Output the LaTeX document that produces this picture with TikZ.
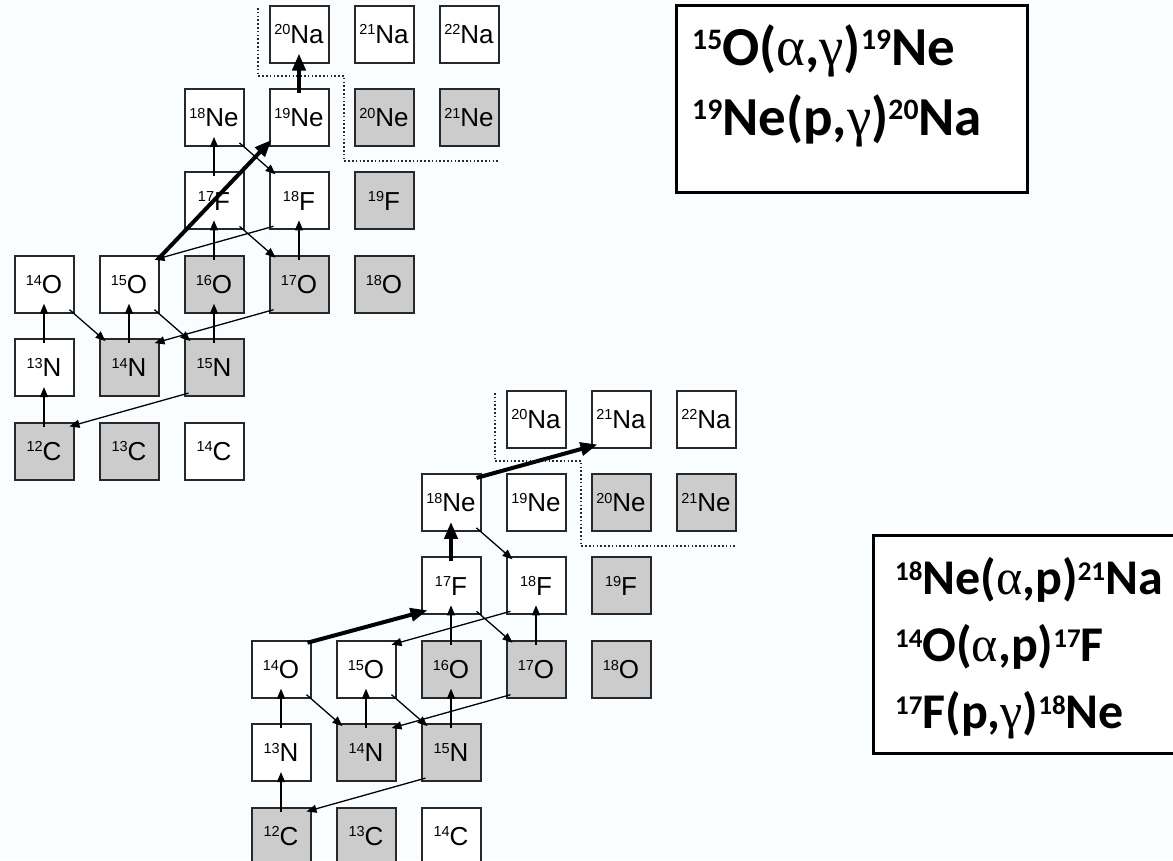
\documentclass[tikz,border=0pt]{standalone}
\usepackage{fontspec}
\setmainfont{Liberation Sans}
\newfontfamily\rxfont{Carlito}
\newfontfamily\grk{Liberation Serif}
\usetikzlibrary{arrows.meta}

\definecolor{stablegray}{RGB}{204,204,204}
\definecolor{edge}{RGB}{40,40,40}
\definecolor{paper}{RGB}{250,253,255}

% nuclide label with small mass number
\newcommand\iso[2]{\raisebox{8.5pt}{\fontsize{14.5}{14.5}\selectfont #1}#2}
% superscript mass number in the reaction boxes (scales with the font)
\newcommand\rsup[1]{\raisebox{0.28em}{\fontsize{0.54em}{0.54em}\selectfont #1}}
\newcommand\ga{{\grk\mdseries γ}}
\newcommand\al{{\grk\mdseries α}}

\tikzset{
  nuc/.style={draw=edge, line width=2pt, fill=white, minimum width=59pt,
    minimum height=57pt, inner sep=0pt, text height=18.6pt, text depth=0pt,
    font=\fontsize{26}{26}\selectfont},
  stab/.style={nuc, fill=stablegray},
  flow/.style={draw=black, line width=1.3pt, -{Triangle[length=10pt,width=8pt]}},
  mainflow/.style={draw=black, line width=4pt, -{Triangle[length=17pt,width=13pt]}},
  border/.style={draw=edge, line width=1.6pt, dash pattern=on 1.6pt off 2.2pt},
  rbox/.style={draw=black, line width=3pt, fill=white, inner sep=0pt},
  rtext/.style={anchor=base west, inner sep=0pt,
    font={\fontsize{50}{50}\selectfont\rxfont\bfseries}},
  rtextbig/.style={rtext, font={\fontsize{55}{55}\selectfont\rxfont\bfseries}},
}

% proton capture (vertical), beta decay (down-right), (p,alpha) (long down-left)
\newcommand\pg[3][flow]{\draw[#1] ([yshift=-5pt]#2.north) -- ([yshift=10pt]#3.south);}
\newcommand\bdecay[2]{\draw[flow] ([xshift=-5pt,yshift=4pt]#1.south east) -- ([xshift=7pt,yshift=-3pt]#2.north west);}
\newcommand\pa[2]{\draw[flow] ([xshift=5pt,yshift=4pt]#1.south west) -- ([xshift=-5pt,yshift=-5pt]#2.north east);}

% chart of nuclides from C to Na, prefix #1 for node names
\newcommand\nucgrid[1]{%
  \node[stab] (#1C12) at (44,451) {\iso{12}C};
  \node[stab] (#1C13) at (129,451) {\iso{13}C};
  \node[nuc]  (#1C14) at (214,451) {\iso{14}C};
  \node[nuc]  (#1N13) at (44,367.6) {\iso{13}N};
  \node[stab] (#1N14) at (129,367.6) {\iso{14}N};
  \node[stab] (#1N15) at (214,367.6) {\iso{15}N};
  \node[nuc]  (#1O14) at (44,284.2) {\iso{14}O};
  \node[nuc]  (#1O15) at (129,284.2) {\iso{15}O};
  \node[stab] (#1O16) at (214,284.2) {\iso{16}O};
  \node[stab] (#1O17) at (299,284.2) {\iso{17}O};
  \node[stab] (#1O18) at (384,284.2) {\iso{18}O};
  \node[nuc]  (#1F17) at (214,200.8) {\iso{17}F};
  \node[nuc]  (#1F18) at (299,200.8) {\iso{18}F};
  \node[stab] (#1F19) at (384,200.8) {\iso{19}F};
  \node[nuc]  (#1Ne18) at (214,117.4) {\iso{18}Ne};
  \node[nuc]  (#1Ne19) at (299,117.4) {\iso{19}Ne};
  \node[stab] (#1Ne20) at (384,117.4) {\iso{20}Ne};
  \node[stab] (#1Ne21) at (469,117.4) {\iso{21}Ne};
  \node[nuc]  (#1Na20) at (299,34) {\iso{20}Na};
  \node[nuc]  (#1Na21) at (384,34) {\iso{21}Na};
  \node[nuc]  (#1Na22) at (469,34) {\iso{22}Na};
  \draw[border] (258,8) -- (258,76) -- (344,76) -- (344,161) -- (499,161);
  \pg{#1C12}{#1N13}
  \pg{#1N13}{#1O14}
  \pg{#1N14}{#1O15}
  \pg{#1N15}{#1O16}
  \pg{#1O16}{#1F17}
  \pg{#1O17}{#1F18}
  \bdecay{#1O14}{#1N14}
  \bdecay{#1O15}{#1N15}
  \bdecay{#1F17}{#1O17}
  \bdecay{#1Ne18}{#1F18}
  \pa{#1N15}{#1C12}
  \pa{#1O17}{#1N14}
  \pa{#1F18}{#1O15}
}

\begin{document}
\begin{tikzpicture}[x=1pt,y=-1pt]
  \useasboundingbox (0,0) rectangle (1173,860);
  \clip (0,0) rectangle (1173,860);
  \fill[paper] (0,0) rectangle (1173,860);

  % hot CNO breakout through 15O(a,g)19Ne
  \begin{scope}
    \nucgrid{t}
    \pg{tF17}{tNe18}
    \draw[mainflow] ([xshift=-2pt,yshift=-5pt]tO15.north east) -- ([xshift=3pt,yshift=7pt]tNe19.south west);
    \pg[mainflow]{tNe19}{tNa20}
  \end{scope}

  % breakout through 14O(a,p)17F and 18Ne(a,p)21Na
  \begin{scope}[shift={(237,385)}]
    \nucgrid{b}
    \draw[mainflow] ([xshift=-4pt,yshift=-3pt]bO14.north east) -- ([xshift=7pt,yshift=5pt]bF17.south west);
    \pg[mainflow]{bF17}{bNe18}
    \draw[mainflow] ([xshift=-5pt,yshift=-5pt]bNe18.north east) -- ([xshift=7pt,yshift=4pt]bNa21.south west);
  \end{scope}

  % reaction lists
  \node[rbox, minimum width=351pt, minimum height=187pt] (rxtop) at (851.5,98.5) {};
  \node[rtextbig] (rxtop1) at (692,65) {\rsup{15}O(\al,\ga)\rsup{19}Ne};
  \node[rtextbig] (rxtop2) at (692,135) {\rsup{19}Ne(p,\ga)\rsup{20}Na};

  \node[rbox, minimum width=322pt, minimum height=218pt] (rxbot) at (1034,644) {};
  \node[rtext] (rxbot1) at (895,594) {\rsup{18}Ne(\al,p)\rsup{21}Na};
  \node[rtext] (rxbot2) at (895,661) {\rsup{14}O(\al,p)\rsup{17}F};
  \node[rtext] (rxbot3) at (895,728) {\rsup{17}F(p,\ga)\rsup{18}Ne};
\end{tikzpicture}
\end{document}
